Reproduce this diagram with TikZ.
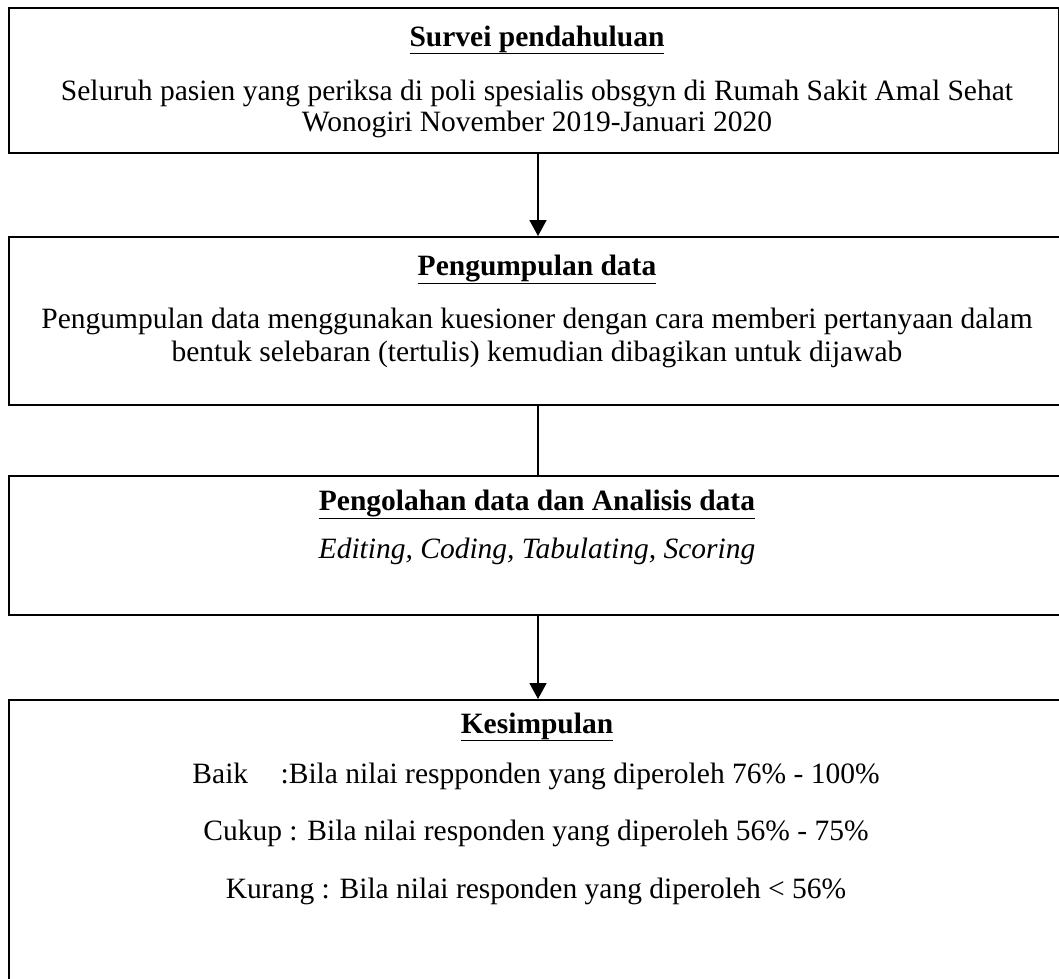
\documentclass[tikz,border=0pt]{standalone}
\usepackage{fontspec}
\setmainfont{Liberation Serif}
\usetikzlibrary{arrows.meta}
\begin{document}
\begin{tikzpicture}[x=1pt,y=-1pt,
  box/.style={draw,line width=1.6pt,anchor=north west,inner sep=0pt},
  txt/.style={font=\fontsize{29.5}{34}\selectfont,inner sep=0pt,anchor=base},
  ttl/.style={txt,font=\fontsize{29.5}{34}\selectfont\bfseries},
  conn/.style={line width=1.8pt},
  arr/.style={conn,-{Triangle[width=17pt,length=16pt]}}]
\useasboundingbox (0,0) rectangle (1059,978);
\clip (0,0) rectangle (1059,978);
% boxes
\node[box,minimum width=1050pt,minimum height=145pt] (b1) at (8,7) {};
\node[box,minimum width=1080pt,minimum height=168pt] (b2) at (8,236) {};
\node[box,minimum width=1080pt,minimum height=139pt] (b3) at (8,475) {};
\node[box,minimum width=1080pt,minimum height=320pt] (b4) at (8,699) {};
% texts
\node[ttl] (t1) at (537,46) {\underline{Survei pendahuluan}};
\node[txt] (t1a) at (537,100) {Seluruh pasien yang periksa di poli spesialis obsgyn di Rumah Sakit Amal Sehat};
\node[txt] (t1b) at (537,131) {Wonogiri November 2019-Januari 2020};
\node[ttl] (t2) at (537,275) {\underline{Pengumpulan data}};
\node[txt] (t2a) at (537,328) {Pengumpulan data menggunakan kuesioner dengan cara memberi pertanyaan dalam};
\node[txt] (t2b) at (537,361) {bentuk selebaran (tertulis) kemudian dibagikan untuk dijawab};
\node[ttl] (t3) at (537,510) {\underline{Pengolahan data dan Analisis data}};
\node[txt] (t3a) at (537,558) {\itshape Editing, Coding, Tabulating, Scoring};
\node[ttl] (t4) at (537,733) {\underline{Kesimpulan}};
\node[txt] (t4a) at (536,783) {Baik\hspace{1.1em}:Bila nilai respponden yang diperoleh 76\% - 100\%};
\node[txt] (t4b) at (536,840) {Cukup : Bila nilai responden yang diperoleh 56\% - 75\%};
\node[txt] (t4c) at (536,898) {Kurang : Bila nilai responden yang diperoleh < 56\%};
% connectors
\coordinate (cx) at (538,0);
\draw[arr] (b1.south -| cx) -- (b2.north -| cx);
\draw[conn] (b2.south -| cx) -- (b3.north -| cx);
\draw[arr] (b3.south -| cx) -- (b4.north -| cx);
\end{tikzpicture}
\end{document}
